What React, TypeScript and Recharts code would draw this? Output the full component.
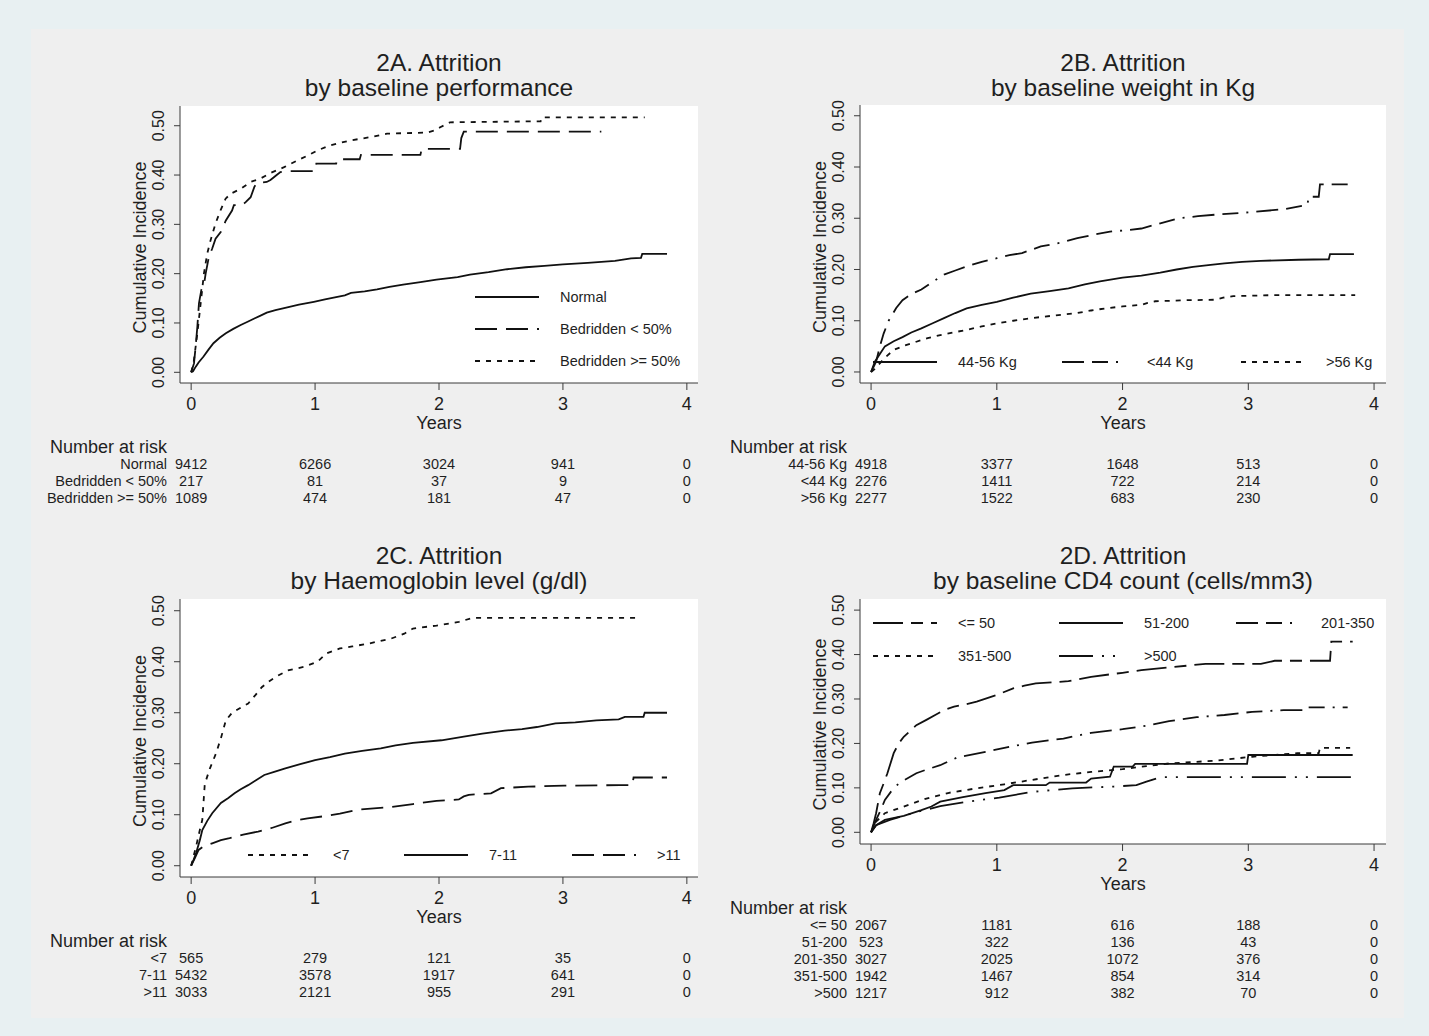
import React from 'react'
import { LineChart, Line, XAxis, YAxis, CartesianGrid, Legend } from 'recharts'

type Pt = [number, number]

const YEARS = [0, 1, 2, 3, 4]
const INCIDENCE_TICKS = [0, 0.1, 0.2, 0.3, 0.4, 0.5]

// 2A. baseline performance
const perfNormal: Pt[] = [
  [0, 0], [0.015, 0.002], [0.036, 0.011], [0.06, 0.02], [0.1, 0.032], [0.14, 0.046], [0.18, 0.059],
  [0.23, 0.07], [0.28, 0.079], [0.34, 0.088], [0.4, 0.096], [0.46, 0.103], [0.51, 0.109], [0.56, 0.115],
  [0.61, 0.121], [0.68, 0.126], [0.75, 0.13], [0.87, 0.137], [0.99, 0.143], [1.08, 0.148], [1.18, 0.153],
  [1.24, 0.156], [1.29, 0.161], [1.4, 0.164], [1.5, 0.168], [1.6, 0.173], [1.71, 0.178], [1.85, 0.183],
  [1.98, 0.188], [2.15, 0.193], [2.25, 0.198], [2.4, 0.203], [2.55, 0.209], [2.7, 0.213], [2.85, 0.216],
  [3.0, 0.219], [3.2, 0.222], [3.42, 0.226], [3.55, 0.231], [3.63, 0.232], [3.64, 0.24], [3.84, 0.24],
]
const perfBedLow: Pt[] = [
  [0, 0], [0.023, 0.018], [0.036, 0.052], [0.05, 0.092], [0.063, 0.14], [0.082, 0.167], [0.103, 0.177],
  [0.117, 0.2], [0.143, 0.234], [0.17, 0.251], [0.197, 0.271], [0.24, 0.285], [0.28, 0.308], [0.33, 0.328],
  [0.345, 0.339], [0.41, 0.339], [0.44, 0.345], [0.48, 0.355], [0.51, 0.376], [0.53, 0.384], [0.61, 0.386],
  [0.64, 0.39], [0.67, 0.396], [0.69, 0.4], [0.72, 0.406], [0.76, 0.408], [1.0, 0.408], [1.01, 0.423],
  [1.17, 0.423], [1.18, 0.432], [1.36, 0.432], [1.37, 0.441], [1.85, 0.441], [1.86, 0.453], [2.17, 0.453],
  [2.18, 0.475], [2.2, 0.488], [3.31, 0.488],
]
const perfBedHigh: Pt[] = [
  [0, 0], [0.02, 0.02], [0.05, 0.079], [0.077, 0.14], [0.103, 0.2], [0.13, 0.241], [0.157, 0.268],
  [0.197, 0.302], [0.238, 0.329], [0.278, 0.352], [0.318, 0.362], [0.4, 0.372], [0.48, 0.386], [0.56, 0.393],
  [0.64, 0.404], [0.75, 0.416], [0.86, 0.43], [0.96, 0.442], [1.02, 0.45], [1.12, 0.46], [1.28, 0.47],
  [1.45, 0.477], [1.58, 0.484], [1.9, 0.486], [1.96, 0.49], [2.01, 0.497], [2.09, 0.507], [2.82, 0.509],
  [2.83, 0.517], [3.66, 0.517],
]
const riskPerfNormal = [9412, 6266, 3024, 941, 0]
const riskPerfBedLow = [217, 81, 37, 9, 0]
const riskPerfBedHigh = [1089, 474, 181, 47, 0]

// 2B. baseline weight
const weightMid: Pt[] = [
  [0, 0], [0.03, 0.02], [0.07, 0.035], [0.11, 0.05], [0.18, 0.06], [0.25, 0.068], [0.32, 0.077], [0.4, 0.085],
  [0.49, 0.095], [0.58, 0.105], [0.67, 0.115], [0.76, 0.124], [0.88, 0.131], [1.0, 0.137], [1.13, 0.145],
  [1.27, 0.153], [1.42, 0.158], [1.57, 0.163], [1.7, 0.171], [1.82, 0.177], [2.0, 0.184], [2.15, 0.188],
  [2.3, 0.194], [2.43, 0.2], [2.56, 0.205], [2.7, 0.209], [2.81, 0.212], [2.95, 0.215], [3.1, 0.217],
  [3.4, 0.219], [3.64, 0.22], [3.65, 0.23], [3.84, 0.23],
]
const weightLow: Pt[] = [
  [0, 0], [0.04, 0.02], [0.07, 0.05], [0.1, 0.075], [0.14, 0.1], [0.2, 0.125], [0.25, 0.14], [0.32, 0.152],
  [0.4, 0.161], [0.49, 0.176], [0.58, 0.19], [0.67, 0.198], [0.76, 0.206], [0.88, 0.215], [1.0, 0.222],
  [1.1, 0.228], [1.2, 0.232], [1.35, 0.245], [1.5, 0.252], [1.64, 0.261], [1.77, 0.268], [1.9, 0.274],
  [2.05, 0.277], [2.15, 0.28], [2.3, 0.29], [2.45, 0.3], [2.6, 0.304], [2.74, 0.307], [3.03, 0.312],
  [3.29, 0.318], [3.47, 0.326], [3.48, 0.342], [3.56, 0.342], [3.57, 0.366], [3.8, 0.366],
]
const weightHigh: Pt[] = [
  [0, 0], [0.04, 0.008], [0.07, 0.017], [0.12, 0.03], [0.18, 0.043], [0.27, 0.052], [0.36, 0.059],
  [0.45, 0.066], [0.55, 0.072], [0.65, 0.077], [0.76, 0.082], [0.88, 0.089], [1.0, 0.095], [1.13, 0.1],
  [1.27, 0.105], [1.45, 0.11], [1.64, 0.115], [1.75, 0.12], [1.86, 0.124], [2.0, 0.128], [2.15, 0.131],
  [2.2, 0.135], [2.26, 0.138], [2.5, 0.14], [2.74, 0.141], [2.8, 0.145], [2.88, 0.148], [3.2, 0.15], [3.85, 0.15],
]
const riskWeightMid = [4918, 3377, 1648, 513, 0]
const riskWeightLow = [2276, 1411, 722, 214, 0]
const riskWeightHigh = [2277, 1522, 683, 230, 0]

// 2C. haemoglobin
const hbLow: Pt[] = [
  [0, 0], [0.04, 0.038], [0.07, 0.07], [0.09, 0.09], [0.11, 0.16], [0.15, 0.19], [0.2, 0.22], [0.24, 0.25],
  [0.28, 0.285], [0.33, 0.3], [0.4, 0.31], [0.46, 0.318], [0.52, 0.335], [0.57, 0.35], [0.62, 0.36],
  [0.68, 0.37], [0.78, 0.383], [0.91, 0.39], [1.02, 0.4], [1.09, 0.416], [1.2, 0.426], [1.3, 0.43],
  [1.42, 0.435], [1.61, 0.445], [1.72, 0.455], [1.79, 0.465], [1.98, 0.471], [2.16, 0.478], [2.27, 0.486],
  [3.6, 0.486],
]
const hbMid: Pt[] = [
  [0, 0], [0.02, 0.012], [0.04, 0.025], [0.07, 0.05], [0.09, 0.07], [0.13, 0.088], [0.17, 0.103],
  [0.24, 0.123], [0.3, 0.133], [0.35, 0.142], [0.4, 0.15], [0.46, 0.158], [0.52, 0.167], [0.59, 0.178],
  [0.67, 0.184], [0.76, 0.191], [0.88, 0.199], [1.0, 0.207], [1.12, 0.213], [1.24, 0.22], [1.38, 0.225],
  [1.53, 0.23], [1.65, 0.236], [1.79, 0.241], [2.02, 0.246], [2.2, 0.253], [2.35, 0.259], [2.53, 0.265],
  [2.67, 0.268], [2.79, 0.272], [2.94, 0.279], [3.1, 0.281], [3.27, 0.285], [3.45, 0.287], [3.5, 0.292],
  [3.65, 0.292], [3.66, 0.3], [3.84, 0.3],
]
const hbHigh: Pt[] = [
  [0, 0], [0.03, 0.015], [0.06, 0.031], [0.1, 0.038], [0.17, 0.044], [0.24, 0.05], [0.31, 0.054],
  [0.42, 0.061], [0.54, 0.067], [0.65, 0.074], [0.76, 0.083], [0.85, 0.089], [0.94, 0.093], [1.07, 0.097],
  [1.2, 0.102], [1.35, 0.11], [1.61, 0.115], [1.79, 0.121], [1.98, 0.127], [2.16, 0.13], [2.2, 0.136],
  [2.24, 0.139], [2.42, 0.142], [2.5, 0.152], [2.72, 0.155], [3.01, 0.157], [3.46, 0.158], [3.56, 0.158],
  [3.57, 0.173], [3.84, 0.173],
]
const riskHbLow = [565, 279, 121, 35, 0]
const riskHbMid = [5432, 3578, 1917, 641, 0]
const riskHbHigh = [3033, 2121, 955, 291, 0]

// 2D. CD4 count
const cd4Upto50: Pt[] = [
  [0, 0], [0.02, 0.02], [0.04, 0.043], [0.07, 0.088], [0.1, 0.11], [0.13, 0.133], [0.18, 0.178], [0.22, 0.2],
  [0.26, 0.215], [0.36, 0.241], [0.44, 0.253], [0.51, 0.264], [0.58, 0.275], [0.66, 0.283], [0.75, 0.288],
  [0.84, 0.294], [1.0, 0.309], [1.13, 0.324], [1.22, 0.33], [1.31, 0.335], [1.57, 0.34], [1.75, 0.35],
  [2.0, 0.359], [2.15, 0.365], [2.37, 0.371], [2.66, 0.379], [3.1, 0.379], [3.21, 0.386], [3.65, 0.386],
  [3.66, 0.429], [3.83, 0.429],
]
const cd4Upto200: Pt[] = [
  [0, 0], [0.04, 0.016], [0.11, 0.028], [0.26, 0.037], [0.4, 0.05], [0.48, 0.058], [0.55, 0.069],
  [0.73, 0.079], [0.91, 0.088], [1.06, 0.095], [1.13, 0.106], [1.39, 0.106], [1.42, 0.112], [1.71, 0.112],
  [1.75, 0.121], [1.9, 0.125], [1.93, 0.148], [2.08, 0.148], [2.1, 0.154], [2.99, 0.154], [3.0, 0.174],
  [3.83, 0.174],
]
const cd4Upto350: Pt[] = [
  [0, 0], [0.04, 0.028], [0.08, 0.052], [0.11, 0.073], [0.16, 0.092], [0.22, 0.11], [0.36, 0.133],
  [0.45, 0.142], [0.55, 0.151], [0.69, 0.169], [0.8, 0.175], [0.91, 0.181], [1.06, 0.19], [1.28, 0.202],
  [1.53, 0.211], [1.75, 0.224], [2.0, 0.232], [2.19, 0.24], [2.37, 0.25], [2.59, 0.259], [2.81, 0.264],
  [3.03, 0.271], [3.28, 0.275], [3.46, 0.275], [3.47, 0.281], [3.79, 0.281],
]
const cd4Upto500: Pt[] = [
  [0, 0], [0.04, 0.024], [0.11, 0.043], [0.26, 0.058], [0.44, 0.076], [0.62, 0.089], [0.84, 0.099],
  [1.06, 0.108], [1.28, 0.118], [1.53, 0.129], [1.75, 0.136], [2.0, 0.142], [2.19, 0.149], [2.37, 0.155],
  [2.73, 0.161], [3.03, 0.17], [3.39, 0.178], [3.56, 0.178], [3.57, 0.19], [3.81, 0.19],
]
const cd4Over500: Pt[] = [
  [0, 0], [0.04, 0.016], [0.15, 0.028], [0.33, 0.043], [0.55, 0.059], [0.77, 0.069], [1.02, 0.078],
  [1.28, 0.091], [1.6, 0.099], [1.93, 0.103], [2.11, 0.106], [2.19, 0.114], [2.3, 0.124], [3.83, 0.124],
]
const riskCd4Upto50 = [2067, 1181, 616, 188, 0]
const riskCd4Upto200 = [523, 322, 136, 43, 0]
const riskCd4Upto350 = [3027, 2025, 1072, 376, 0]
const riskCd4Upto500 = [1942, 1467, 854, 314, 0]
const riskCd4Over500 = [1217, 912, 382, 70, 0]

const FONT = 'Arial, "Liberation Sans", Helvetica, sans-serif'
const INK = '#1f1f1f'
const AXIS = '#3a3a3a'
const STROKE = '#111111'

const LONG_DASH = '22 9'
const SHORT_DASH = '5 6'
const LONG_DASH_DOT = '22 8 16 8 2 8'
const DASH_GAP_DASH = '30 8 12 8'
const LONG_DOT_DOT = '34 9 2 9 2 9'

const Y_AXIS_W = 50
const MAIN_AXIS_H = 52
const HEADER_H = 20
const ROW_H = 17

interface Series {
  name: string
  points: Pt[]
  risk: number[]
  dash?: string
}

interface PanelCfg {
  title: string[]
  left: number
  top: number
  width: number
  height: number
  margin: { top: number; right: number; bottom: number; left: number }
  xDomain: [number, number]
  yDomain: [number, number]
  series: Series[]
  legend: { x: number; y: number; cols: number[]; rowGap: number; width: number }
}

const panels: PanelCfg[] = [
  {
    title: ['2A. Attrition', 'by baseline performance'],
    left: 0, top: 100, width: 720, height: 420,
    margin: { top: 6, right: 22, bottom: 14, left: 130 },
    xDomain: [-0.09, 4.09], yDomain: [-0.0217, 0.54],
    series: [
      { name: 'Normal', points: perfNormal, risk: riskPerfNormal },
      { name: 'Bedridden < 50%', points: perfBedLow, risk: riskPerfBedLow, dash: LONG_DASH },
      { name: 'Bedridden >= 50%', points: perfBedHigh, risk: riskPerfBedHigh, dash: SHORT_DASH },
    ],
    legend: { x: 475, y: 197, cols: [0], rowGap: 32, width: 235 },
  },
  {
    title: ['2B. Attrition', 'by baseline weight in Kg'],
    left: 680, top: 100, width: 740, height: 420,
    margin: { top: 5, right: 34, bottom: 14, left: 130 },
    xDomain: [-0.088, 4.095], yDomain: [-0.0215, 0.521],
    series: [
      { name: '44-56 Kg', points: weightMid, risk: riskWeightMid },
      { name: '<44 Kg', points: weightLow, risk: riskWeightLow, dash: LONG_DASH_DOT },
      { name: '>56 Kg', points: weightHigh, risk: riskWeightHigh, dash: SHORT_DASH },
    ],
    legend: { x: 193, y: 261.5, cols: [0, 189, 368], rowGap: 32, width: 520 },
  },
  {
    title: ['2C. Attrition', 'by Haemoglobin level (g/dl)'],
    left: 0, top: 593, width: 720, height: 420,
    margin: { top: 6, right: 22, bottom: 13, left: 130 },
    xDomain: [-0.09, 4.09], yDomain: [-0.0221, 0.523],
    series: [
      { name: '<7', points: hbLow, risk: riskHbLow, dash: SHORT_DASH },
      { name: '7-11', points: hbMid, risk: riskHbMid },
      { name: '>11', points: hbHigh, risk: riskHbHigh, dash: LONG_DASH },
    ],
    legend: { x: 248, y: 262, cols: [0, 156, 324], rowGap: 32, width: 460 },
  },
  {
    title: ['2D. Attrition', 'by baseline CD4 count (cells/mm3)'],
    left: 680, top: 593, width: 740, height: 430,
    margin: { top: 6, right: 34, bottom: 22, left: 130 },
    xDomain: [-0.088, 4.095], yDomain: [-0.0263, 0.525],
    series: [
      { name: '<= 50', points: cd4Upto50, risk: riskCd4Upto50, dash: DASH_GAP_DASH },
      { name: '51-200', points: cd4Upto200, risk: riskCd4Upto200 },
      { name: '201-350', points: cd4Upto350, risk: riskCd4Upto350, dash: LONG_DASH_DOT },
      { name: '351-500', points: cd4Upto500, risk: riskCd4Upto500, dash: SHORT_DASH },
      { name: '>500', points: cd4Over500, risk: riskCd4Over500, dash: LONG_DOT_DOT },
    ],
    legend: { x: 193, y: 29.5, cols: [0, 186, 363], rowGap: 33, width: 520 },
  },
]

const Panel: React.FC<{ cfg: PanelCfg }> = ({ cfg }) => {
  const { margin, series } = cfg
  const axisH = MAIN_AXIS_H + HEADER_H + ROW_H * series.length
  const plotLeft = margin.left + Y_AXIS_W
  const plotRight = cfg.width - margin.right
  const plotTop = margin.top
  const plotBottom = cfg.height - margin.bottom - axisH
  const plotCx = (plotLeft + plotRight) / 2
  const plotCy = (plotTop + plotBottom) / 2
  const rowBase = (i: number) => plotBottom + MAIN_AXIS_H + HEADER_H + ROW_H * i + 13.5
  const nCols = cfg.legend.cols.length
  const legendRows = Math.ceil(series.length / nCols)

  const txt = { fontFamily: FONT, fill: INK }

  const legendContent = () => (
    <svg width={cfg.legend.width} height={legendRows * cfg.legend.rowGap + 10} style={{ display: 'block', overflow: 'visible' }}>
      {series.map((s, i) => {
        const x = cfg.legend.cols[i % nCols]
        const y = 16 + Math.floor(i / nCols) * cfg.legend.rowGap
        return (
          <g key={s.name}>
            <line x1={x} x2={x + 64} y1={y} y2={y} stroke={STROKE} strokeWidth={1.8} strokeDasharray={s.dash} />
            <text x={x + 85} y={y + 5} fontSize={14.5} {...txt}>{s.name}</text>
          </g>
        )
      })}
    </svg>
  )

  // year tick label plus the number-at-risk column under it
  const yearTick = (p: any) => {
    const year = p.payload.value
    return (
      <g>
        <text x={p.x} y={plotBottom + 27} textAnchor="middle" fontSize={18} {...txt}>{year}</text>
        {series.map((s, i) => (
          <text key={s.name} x={p.x} y={rowBase(i)} textAnchor="middle" fontSize={14.5} {...txt}>
            {s.risk[year]}
          </text>
        ))}
      </g>
    )
  }

  const axisLabels = () => (
    <g>
      <text x={plotCx} y={plotBottom + 45.5} textAnchor="middle" fontSize={18} {...txt}>Years</text>
      <text x={plotLeft - 130} y={plotBottom + MAIN_AXIS_H + 17.5} fontSize={18} {...txt}>Number at risk</text>
      {series.map((s, i) => (
        <text key={s.name} x={plotLeft - 13} y={rowBase(i)} textAnchor="end" fontSize={14.5} {...txt}>
          {s.name}
        </text>
      ))}
    </g>
  )

  return (
    <div style={{ position: 'absolute', left: cfg.left, top: cfg.top }}>
      <LineChart width={cfg.width} height={cfg.height} margin={margin}>
        <CartesianGrid xAxisId="main" fill="#ffffff" stroke="none" horizontal={false} vertical={false} />
        <XAxis
          xAxisId="main"
          type="number"
          dataKey="t"
          domain={cfg.xDomain}
          allowDataOverflow
          ticks={YEARS}
          interval={0}
          height={axisH}
          tickSize={7}
          tickMargin={2}
          axisLine={{ stroke: AXIS }}
          tickLine={{ stroke: AXIS }}
          tick={yearTick}
          label={axisLabels}
        />
        <YAxis
          type="number"
          domain={cfg.yDomain}
          allowDataOverflow
          ticks={INCIDENCE_TICKS}
          interval={0}
          width={Y_AXIS_W}
          tickSize={6}
          axisLine={{ stroke: AXIS }}
          tickLine={{ stroke: AXIS }}
          tick={(p: any) => {
            const bx = plotLeft - 16
            return (
              <text x={bx} y={p.y} transform={`rotate(-90, ${bx}, ${p.y})`} textAnchor="middle" fontSize={16} {...txt}>
                {Number(p.payload.value).toFixed(2)}
              </text>
            )
          }}
          label={() => {
            const bx = plotLeft - 34
            const cy = plotCy + 3
            return (
              <text x={bx} y={cy} transform={`rotate(-90, ${bx}, ${cy})`} textAnchor="middle" fontSize={18} {...txt}>
                Cumulative Incidence
              </text>
            )
          }}
        />
        {series.map((s) => (
          <Line
            key={s.name}
            xAxisId="main"
            data={s.points.map(([t, v]) => ({ t, v }))}
            dataKey="v"
            name={s.name}
            type="linear"
            dot={false}
            activeDot={false}
            stroke={STROKE}
            strokeWidth={1.8}
            strokeDasharray={s.dash}
            isAnimationActive={false}
          />
        ))}
        <Legend
          content={legendContent}
          layout="vertical"
          verticalAlign="middle"
          align="center"
          wrapperStyle={{ left: cfg.legend.x, top: cfg.legend.y - 16, width: cfg.legend.width }}
        />
      </LineChart>
      <div
        style={{
          position: 'absolute',
          left: plotLeft,
          width: plotRight - plotLeft,
          top: -50.5,
          textAlign: 'center',
          fontFamily: FONT,
          fontSize: 24.5,
          lineHeight: '25px',
          color: INK,
          whiteSpace: 'nowrap',
        }}
      >
        {cfg.title.map((line) => (
          <div key={line}>{line}</div>
        ))}
      </div>
    </div>
  )
}

const App: React.FC = () => (
  <div style={{ position: 'absolute', left: 0, top: 0, width: 1429, height: 1036, background: '#e8f0f2', overflow: 'hidden' }}>
    <div style={{ position: 'absolute', left: 31, top: 29, width: 1373, height: 989, background: '#efefef' }} />
    {panels.map((cfg) => (
      <Panel key={cfg.title[0]} cfg={cfg} />
    ))}
  </div>
)

export default App
